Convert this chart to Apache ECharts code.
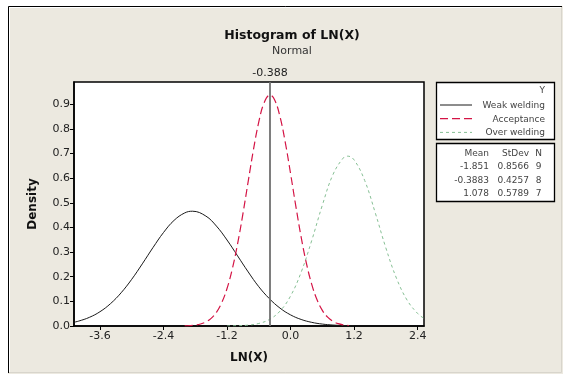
<!DOCTYPE html>
<html>
<head>
<meta charset="utf-8">
<script src="https://cdn.jsdelivr.net/npm/echarts@6/dist/echarts.min.js"></script>
<style>
html, body { margin: 0; padding: 0; background: #fff; }
#main { width: 567px; height: 378px; }
</style>
</head>
<body>
<div id="main"></div>
<script>
(function () {
    'use strict';

    // groups and summary stats shown in the side table
    var groups = ['Weak welding', 'Acceptance', 'Over welding'];
    var means = ['-1.851', '-0.3883', '1.078'];
    var stdevs = ['0.8566', '0.4257', '0.5789'];
    var counts = ['9', '8', '7'];
    var refValue = -0.388;

    // axis ticks
    var xTicks = [-3.6, -2.4, -1.2, 0.0, 1.2, 2.4];
    var yTicks = [0.0, 0.1, 0.2, 0.3, 0.4, 0.5, 0.6, 0.7, 0.8, 0.9];

    // density curves
    var weakX = [-4.09, -4.0, -3.8, -3.6, -3.4, -3.2, -3.0, -2.8, -2.6, -2.4, -2.2, -2.0, -1.851, -1.6, -1.4, -1.2, -1.0, -0.8, -0.6, -0.4, -0.2, 0.0, 0.2, 0.4, 0.6, 0.8, 1.0, 1.2];
    var weakY = [0.0153, 0.0200, 0.0350, 0.0579, 0.0908, 0.1348, 0.1894, 0.2521, 0.3177, 0.3792, 0.4286, 0.4587, 0.4657, 0.4461, 0.4054, 0.3489, 0.2843, 0.2194, 0.1594, 0.1109, 0.0727, 0.0451, 0.0265, 0.0148, 0.0078, 0.0039, 0.0018, 0.0008];

    var accX = [-2.0, -1.9, -1.8, -1.7, -1.6, -1.5, -1.4, -1.3, -1.2, -1.1, -1.0, -0.9, -0.8, -0.7, -0.6, -0.5, -0.388, -0.3, -0.2, -0.1, 0.0, 0.1, 0.2, 0.3, 0.4, 0.5, 0.6, 0.7, 0.8, 0.9, 1.0, 1.1];
    var accY = [0.0007, 0.0017, 0.0038, 0.0081, 0.0163, 0.0310, 0.0556, 0.0946, 0.1522, 0.2317, 0.3338, 0.4551, 0.5871, 0.7168, 0.8281, 0.9054, 0.9371, 0.9172, 0.8498, 0.7451, 0.6182, 0.4854, 0.3607, 0.2536, 0.1687, 0.1062, 0.0633, 0.0357, 0.0190, 0.0096, 0.0046, 0.0021];

    var overX = [-1.2, -1.0, -0.8, -0.6, -0.4, -0.2, 0.0, 0.2, 0.4, 0.6, 0.8, 1.0, 1.078, 1.2, 1.4, 1.6, 1.8, 2.0, 2.2, 2.4, 2.52];
    var overY = [0.0003, 0.0011, 0.0036, 0.0103, 0.0265, 0.0603, 0.1217, 0.2182, 0.3471, 0.4901, 0.6141, 0.6829, 0.6891, 0.6740, 0.5904, 0.4589, 0.3166, 0.1939, 0.1053, 0.0508, 0.0310];

    function pairs(xs, ys) {
        return xs.map(function (x, i) { return [x, ys[i]]; });
    }

    var font = "'DejaVu Sans', Tahoma, sans-serif";
    var colors = ['#1a1a1a', '#d41445', '#86bf94'];
    var dashes = ['solid', [8, 4], [3, 3]];
    var widths = [1, 1.2, 1];
    var small = '9px ' + font;
    var txt = '#444';

    var dom = document.getElementById('main');
    var myChart = echarts.init(dom);

    var graphics = [
        // white margin round the framed panel
        { type: 'rect', shape: { x: 0, y: 0, width: 567, height: 6 }, style: { fill: '#fff' } },
        { type: 'rect', shape: { x: 0, y: 0, width: 8, height: 378 }, style: { fill: '#fff' } },
        { type: 'rect', shape: { x: 563, y: 0, width: 4, height: 378 }, style: { fill: '#fff' } },
        { type: 'rect', shape: { x: 0, y: 374, width: 567, height: 4 }, style: { fill: '#fff' } },
        { type: 'polyline', shape: { points: [[8.5, 373], [8.5, 6.5], [562, 6.5]] }, style: { stroke: '#000', lineWidth: 1, fill: null } },
        { type: 'polyline', shape: { points: [[9.5, 372], [9.5, 7.5], [561, 7.5]] }, style: { stroke: '#fff', lineWidth: 1, fill: null } },
        { type: 'polyline', shape: { points: [[9, 372.5], [561.5, 372.5], [561.5, 7]] }, style: { stroke: '#d8d5cc', lineWidth: 1, fill: null } },
        // legend boxes
        { type: 'rect', shape: { x: 436.5, y: 82.5, width: 118, height: 57 }, style: { fill: '#fff', stroke: '#000', lineWidth: 1.3 } },
        { type: 'rect', shape: { x: 436.5, y: 143.5, width: 118, height: 58 }, style: { fill: '#fff', stroke: '#000', lineWidth: 1.3 } },
        { type: 'text', x: 545, y: 91, style: { text: 'Y', font: small, fill: txt, align: 'right', verticalAlign: 'middle' } }
    ];

    groups.forEach(function (g, i) {
        var y = 105 + i * 13.7;
        graphics.push({ type: 'line', shape: { x1: 440, y1: y, x2: 472, y2: y },
            style: { stroke: colors[i], lineWidth: widths[i], lineDash: dashes[i] === 'solid' ? null : dashes[i] } });
        graphics.push({ type: 'text', x: 545, y: y + 0.5, style: { text: g, font: small, fill: txt, align: 'right', verticalAlign: 'middle' } });
    });

    var head = 154;
    graphics.push({ type: 'text', x: 489, y: head, style: { text: 'Mean', font: small, fill: txt, align: 'right', verticalAlign: 'middle' } });
    graphics.push({ type: 'text', x: 529, y: head, style: { text: 'StDev', font: small, fill: txt, align: 'right', verticalAlign: 'middle' } });
    graphics.push({ type: 'text', x: 538.5, y: head, style: { text: 'N', font: small, fill: txt, align: 'center', verticalAlign: 'middle' } });
    means.forEach(function (m, i) {
        var y = 167 + i * 13.4;
        graphics.push({ type: 'text', x: 489, y: y, style: { text: m, font: small, fill: txt, align: 'right', verticalAlign: 'middle' } });
        graphics.push({ type: 'text', x: 529, y: y, style: { text: stdevs[i], font: small, fill: txt, align: 'right', verticalAlign: 'middle' } });
        graphics.push({ type: 'text', x: 538.5, y: y, style: { text: counts[i], font: small, fill: txt, align: 'center', verticalAlign: 'middle' } });
    });

    var series = [
        { data: pairs(weakX, weakY) },
        { data: pairs(accX, accY) },
        { data: pairs(overX, overY) }
    ].map(function (s, i) {
        return {
            name: groups[i],
            type: 'line',
            data: s.data,
            smooth: 0.4,
            showSymbol: false,
            symbol: 'none',
            silent: true,
            lineStyle: { color: colors[i], width: widths[i], type: dashes[i] },
            z: 3
        };
    });

    series[0].markLine = {
        silent: true,
        symbol: 'none',
        animation: false,
        lineStyle: { color: '#707070', width: 1.8, type: 'solid' },
        label: { show: true, position: 'end', distance: 3, formatter: '-0.388', color: '#222', fontSize: 11, fontFamily: font },
        data: [{ xAxis: refValue }]
    };

    var option = {
        animation: false,
        backgroundColor: '#ece9e0',
        title: {
            text: 'Histogram of LN(X)',
            subtext: 'Normal',
            left: 287,
            textAlign: 'center',
            top: 24,
            itemGap: 4,
            textStyle: { fontSize: 12.5, fontWeight: 'bold', color: '#111', fontFamily: font },
            subtextStyle: { fontSize: 11, color: '#333', fontFamily: font }
        },
        grid: {
            left: 74, right: 143, top: 82, bottom: 52,
            show: true, backgroundColor: '#fff', borderColor: '#000', borderWidth: 1.5
        },
        xAxis: {
            type: 'value',
            min: -4.09,
            max: 2.52,
            name: 'LN(X)',
            nameLocation: 'middle',
            nameGap: 26,
            nameTextStyle: { fontSize: 12, fontWeight: 'bold', color: '#111', fontFamily: font },
            axisLine: { show: true, onZero: false, lineStyle: { color: '#000', width: 1.5 } },
            axisTick: { show: true, length: 4, customValues: xTicks, lineStyle: { color: '#000' } },
            axisLabel: { customValues: xTicks, margin: 5, fontSize: 11, color: '#222', fontFamily: font,
                formatter: function (v) { return v.toFixed(1); } },
            splitLine: { show: false }
        },
        yAxis: {
            type: 'value',
            min: 0,
            max: 0.99,
            name: 'Density',
            nameLocation: 'middle',
            nameGap: 35,
            nameTextStyle: { fontSize: 12, fontWeight: 'bold', color: '#111', fontFamily: font },
            axisLine: { show: true, onZero: false, lineStyle: { color: '#000', width: 1.5 } },
            axisTick: { show: true, length: 4, customValues: yTicks, lineStyle: { color: '#000' } },
            axisLabel: { customValues: yTicks, margin: 4, fontSize: 11, color: '#222', fontFamily: font,
                formatter: function (v) { return v.toFixed(1); } },
            splitLine: { show: false }
        },
        graphic: graphics,
        series: series
    };
    myChart.setOption(option, true);
}());
</script>
</body>
</html>
